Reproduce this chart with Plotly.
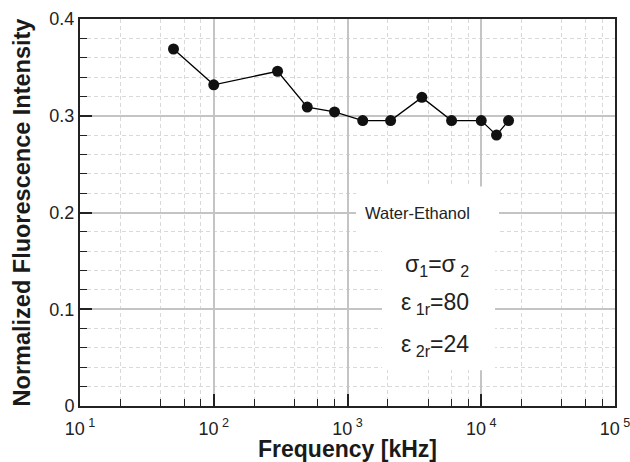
import plotly.graph_objects as go

# Data
frequency_khz = [50, 100, 300, 500, 800, 1300, 2100, 3600, 6000, 10000, 13000, 16000]
intensity = [0.369, 0.332, 0.346, 0.309, 0.304, 0.295, 0.295, 0.319, 0.295, 0.295, 0.280, 0.295]

x_tick_vals = [10, 100, 1000, 10000, 100000]
x_tick_text = ["10<sup> 1</sup>", "10<sup> 2</sup>", "10<sup> 3</sup>", "10<sup> 4</sup>", "10<sup> 5</sup>"]
x_minor_mult = [2, 4, 6, 8]
y_tick_vals = [0, 0.1, 0.2, 0.3, 0.4]
y_tick_text = ["0", "0.1", "0.2", "0.3", "0.4"]

FONT = "Liberation Sans, Arial, Helvetica, sans-serif"

x_minor_vals = [m * d for d in x_tick_vals[:-1] for m in x_minor_mult]

fig = go.Figure()
fig.add_trace(go.Scatter(
    x=frequency_khz, y=intensity, mode="lines+markers",
    line=dict(color="black", width=1.3),
    marker=dict(color="#111", size=11),
    showlegend=False,
))

grid_major = "#c4c4c4"
grid_minor = "#d9d9d9"

fig.update_xaxes(
    type="log", range=[1, 5],
    tickmode="array", tickvals=x_tick_vals, ticktext=x_tick_text,
    ticks="inside", ticklen=12, tickwidth=1.5, tickcolor="#222",
    showgrid=True, gridcolor=grid_major, gridwidth=1.5,
    minor=dict(tickmode="array", tickvals=x_minor_vals, ticks="inside", ticklen=7,
               tickwidth=1.2, tickcolor="#222", showgrid=True, gridcolor=grid_minor,
               gridwidth=1, griddash="4px,3px"),
    showline=True, linecolor="#222", linewidth=2, mirror=True,
    tickfont=dict(family=FONT, size=18, color="#222"),
    ticklabelstandoff=5, ticklabeloverflow="allow",
    title=dict(text="<b>Frequency [kHz]</b>", font=dict(family=FONT, size=23, color="#1a1a1a"), standoff=1),
    zeroline=False,
)
fig.update_yaxes(
    range=[0, 0.4],
    tickmode="array", tickvals=y_tick_vals, ticktext=y_tick_text,
    ticks="inside", ticklen=12, tickwidth=1.5, tickcolor="#222",
    showgrid=True, gridcolor=grid_major, gridwidth=1.5,
    minor=dict(dtick=0.02, ticks="inside", ticklen=7, tickwidth=1.2, tickcolor="#222",
               showgrid=True, gridcolor=grid_minor, gridwidth=1, griddash="4px,3px"),
    showline=True, linecolor="#222", linewidth=2, mirror=True,
    tickfont=dict(family=FONT, size=18, color="#222"),
    title=dict(text="<b>Normalized Fluorescence Intensity</b>", font=dict(family=FONT, size=23.5, color="#1a1a1a"), standoff=12),
    zeroline=False,
)

# white backgrounds behind the annotation text (between grid and traces)
fig.add_shape(type="rect", xref="x", yref="y", x0=10**3.064, x1=10**4.133, y0=0.171, y1=0.227,
              fillcolor="white", line=dict(width=0), layer="between")
fig.add_shape(type="rect", xref="x", yref="y", x0=10**3.258, x1=10**4.103, y0=0.037, y1=0.172,
              fillcolor="white", line=dict(width=0), layer="between")

fig.add_annotation(x=3.527, y=0.2, xref="x", yref="y", text="Water-Ethanol", showarrow=False,
                   font=dict(family=FONT, size=16.5, color="#222"), xanchor="center", yanchor="middle")
labels = ["σ<sub>1</sub>=σ<sub> 2</sub>", "ε<sub> 1r</sub>=80", "ε<sub> 2r</sub>=24"]
label_y = [0.145, 0.106, 0.063]
for t, yy in zip(labels, label_y):
    fig.add_annotation(x=3.92, y=yy, xref="x", yref="y", text=t, showarrow=False,
                       font=dict(family=FONT, size=23, color="#222"), xanchor="right", yanchor="middle")

fig.update_layout(
    width=630, height=462,
    margin=dict(l=80, r=15, t=19, b=56, autoexpand=False),
    plot_bgcolor="white", paper_bgcolor="white",
)

fig.write_html("out.html")
